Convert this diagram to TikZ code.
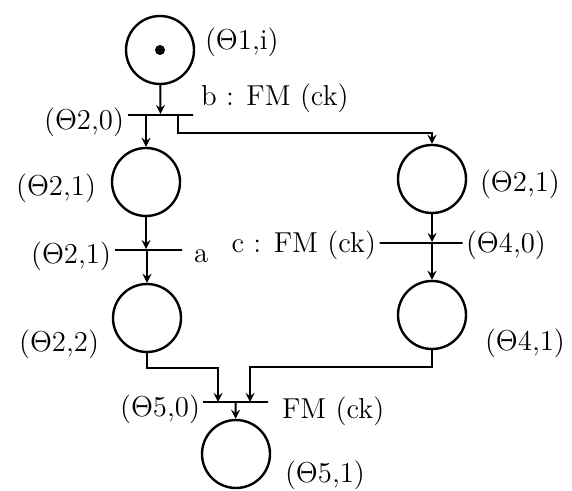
\documentclass[tikz,border=0pt]{standalone}
\usepackage{amsmath,amssymb}
\usepackage{xcolor}
\usetikzlibrary{arrows, positioning, calc}

\begin{document}
\begin{tikzpicture}[x=0.5pt, y=-0.5pt, >=stealth, line width=1pt]
    \tikzset{
        place/.style={circle, draw, line width=1.2pt, minimum size=34pt, inner sep=0pt},
        trans/.style={rectangle, draw, minimum height=0pt, inner sep=0pt},
        lab/.style={font=\Large, inner sep=0pt},
        line/.style={draw, ->}
    }
    \useasboundingbox (0,0) rectangle (572,491);

    % places
    \node (Init) [place] at (160,50) {};
    \fill (Init) circle (5);
    \node (LeftOne) [place] at (146,182) {};
    \node (LeftTwo) [place] at (147,318) {};
    \node (RightOne) [place] at (432,179) {};
    \node (RightTwo) [place] at (432,315) {};
    \node (Final) [place] at (236,454) {};

    % transitions
    \node (TrB) [trans, minimum width=32.5pt] at (160.5,115) {};
    \node (TrA) [trans, minimum width=33.5pt] at (148.5,250) {};
    \node (TrC) [trans, minimum width=41.5pt] at (421,243) {};
    \node (TrF) [trans, minimum width=32.5pt] at (235.5,402) {};

    \coordinate (BRight) at (178,115);
    \coordinate (FLeft) at (218,402);
    \coordinate (FRight) at (250,402);

    % labels
    \node [lab, anchor=west] at (204,42) {($\Theta$1,i)};
    \node [lab, anchor=east] at (125,122) {($\Theta$2,0)};
    \node [lab, anchor=west] at (200,98) {b : FM (ck)};
    \node [lab, anchor=east] at (97,188) {($\Theta$2,1)};
    \node [lab, anchor=west] at (479,184) {($\Theta$2,1)};
    \node [lab, anchor=east] at (112,256) {($\Theta$2,1)};
    \node [lab, anchor=west] at (193,256) {a};
    \node [lab, anchor=east] at (377,245) {c : FM (ck)};
    \node [lab, anchor=west] at (465,245) {($\Theta$4,0)};
    \node [lab, anchor=east] at (100,344) {($\Theta$2,2)};
    \node [lab, anchor=west] at (484,343) {($\Theta$4,1)};
    \node [lab, anchor=east] at (201,409) {($\Theta$5,0)};
    \node [lab, anchor=west] at (281,411) {FM (ck)};
    \node [lab, anchor=west] at (284,475) {($\Theta$5,1)};

    % arcs
    \path [line] (Init) -- (TrB);
    \path [line] (TrB.south -| LeftOne) -- (LeftOne);
    \path [line] (BRight) -- ++(0,18) -| (RightOne);
    \path [line] (LeftOne) -- (TrA.north -| LeftOne);
    \path [line] (TrA.south -| LeftTwo) -- (LeftTwo);
    \path [line] (RightOne) -- (TrC.north -| RightOne);
    \path [line] (TrC.south -| RightTwo) -- (RightTwo);
    \path [line] (LeftTwo) -- ++(0,50) -| (FLeft);
    \path [line] (RightTwo) -- ++(0,52) -| (FRight);
    \path [line] (TrF) -- (Final);

\end{tikzpicture}
\end{document}
